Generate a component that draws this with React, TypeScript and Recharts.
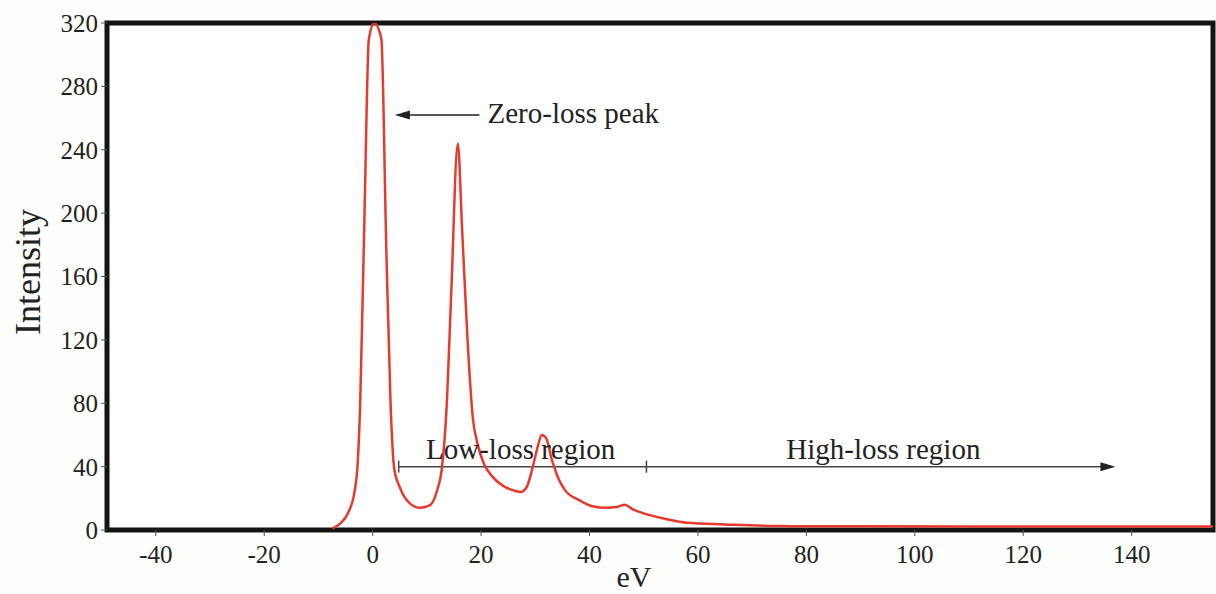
import {
  LineChart,
  Line,
  XAxis,
  YAxis,
  ReferenceArea,
  ReferenceLine,
  ReferenceDot,
} from "recharts";

// EELS spectrum: energy loss (eV) and intensity
const energy = [
  -7.4, -6, -4.5, -3.3, -2.8, -2.3, -1.5, -0.7, 0.3, 1.6, 2.5, 3.3, 4, 5, 6.8,
  8.7, 10.5, 11.8, 12.8, 13.6, 14.5, 15.7, 16.5, 17.5, 18.5, 19.3, 20.5, 22,
  24, 26, 27.3, 28.4, 29.4, 30.4, 31.2, 32, 33, 34.2, 35.5, 38, 40.5, 43, 45,
  46.5, 48, 50, 54, 58, 65, 75, 90, 110, 155,
];
const intensity = [
  1, 4, 11, 25, 40, 80, 200, 310, 320, 310, 180, 80, 38, 27, 17, 14, 15.5, 24,
  40, 75, 150, 244, 190, 120, 70, 55, 42, 34, 28, 25, 24, 27, 38, 52, 60, 58,
  45, 33, 25, 19, 15, 14, 14.5, 16, 13, 10.5, 7, 4.5, 3.5, 2.5, 2.3, 2.2, 2.2,
];

const xTicks = [-40, -20, 0, 20, 40, 60, 80, 100, 120, 140];
const yTicks = [0, 40, 80, 120, 160, 200, 240, 280, 320];

const data = energy.map((e, i) => ({ eV: e, intensity: intensity[i] }));

const FONT = "'Liberation Serif', 'Times New Roman', serif";
const INK = "#222";

const label = (text: string, size: number) => (p: any) => (
  <text
    x={p.cx}
    y={p.cy}
    textAnchor="middle"
    dominantBaseline="central"
    fontFamily={FONT}
    fontSize={size}
    fill={INK}
  >
    {text}
  </text>
);

const arrowHead = (dir: "left" | "right") => (p: any) => {
  const { cx, cy } = p;
  const d = dir === "left" ? 1 : -1;
  return (
    <polygon
      points={`${cx},${cy} ${cx + d * 15},${cy - 4.5} ${cx + d * 15},${cy + 4.5}`}
      fill={INK}
    />
  );
};

export default function App() {
  return (
    <div
      style={{
        position: "absolute",
        left: 0,
        top: 0,
        width: 1216,
        height: 594,
        background: "#fefefd",
      }}
    >
      <LineChart
        width={1216}
        height={594}
        data={data}
        margin={{ top: 23, right: 3, left: 47, bottom: 0 }}
      >
        <ReferenceArea
          x1={-49}
          x2={155}
          y1={0}
          y2={320}
          fill="#ffffff"
          fillOpacity={1}
          stroke="#151515"
          strokeWidth={5}
        />
        <XAxis
          type="number"
          dataKey="eV"
          domain={[-49, 155]}
          ticks={xTicks}
          allowDataOverflow
          axisLine={false}
          tickSize={6}
          tickMargin={9}
          tickLine={{ stroke: "#555" }}
          tick={{ fontSize: 25, fontFamily: FONT, fill: INK }}
          height={64}
          label={{
            content: (p: any) => {
              const vb = p.viewBox;
              return (
                <text
                  x={vb.x + vb.width / 2 - 26}
                  y={587}
                  textAnchor="middle"
                  fontFamily={FONT}
                  fontSize={30}
                  fill={INK}
                >
                  eV
                </text>
              );
            },
          }}
        />
        <YAxis
          type="number"
          domain={[0, 320]}
          ticks={yTicks}
          allowDataOverflow
          axisLine={false}
          tickSize={6}
          tickMargin={3}
          tickLine={{ stroke: "#555" }}
          tick={{ fontSize: 25, fontFamily: FONT, fill: INK }}
          width={60}
          label={{
            content: () => (
              <text
                x={40}
                y={272}
                textAnchor="middle"
                transform="rotate(-90 40 272)"
                fontFamily={FONT}
                fontSize={36}
                fill={INK}
              >
                Intensity
              </text>
            ),
          }}
        />

        {/* zero-loss annotation */}
        <ReferenceLine
          segment={[
            { x: 6, y: 262 },
            { x: 19.7, y: 262 },
          ]}
          stroke={INK}
          strokeWidth={1.5}
        />
        <ReferenceDot x={4.1} y={262} r={0} shape={arrowHead("left")} />
        <ReferenceDot x={37} y={263} r={0} shape={label("Zero-loss peak", 29)} />

        {/* region bar */}
        <ReferenceLine
          segment={[
            { x: 4.8, y: 40 },
            { x: 135, y: 40 },
          ]}
          stroke="#444"
          strokeWidth={1.5}
        />
        <ReferenceLine
          segment={[
            { x: 4.8, y: 36.2 },
            { x: 4.8, y: 43.8 },
          ]}
          stroke="#444"
          strokeWidth={1.5}
        />
        <ReferenceLine
          segment={[
            { x: 50.5, y: 36.2 },
            { x: 50.5, y: 43.8 },
          ]}
          stroke="#444"
          strokeWidth={1.5}
        />
        <ReferenceDot x={137} y={40} r={0} shape={arrowHead("right")} />
        <ReferenceDot x={27.3} y={51} r={0} shape={label("Low-loss region", 29)} />
        <ReferenceDot x={94.2} y={51} r={0} shape={label("High-loss region", 29)} />

        <Line
          type="monotone"
          dataKey="intensity"
          stroke="#e63a2e"
          strokeWidth={2.5}
          dot={false}
          isAnimationActive={false}
        />
      </LineChart>
    </div>
  );
}
